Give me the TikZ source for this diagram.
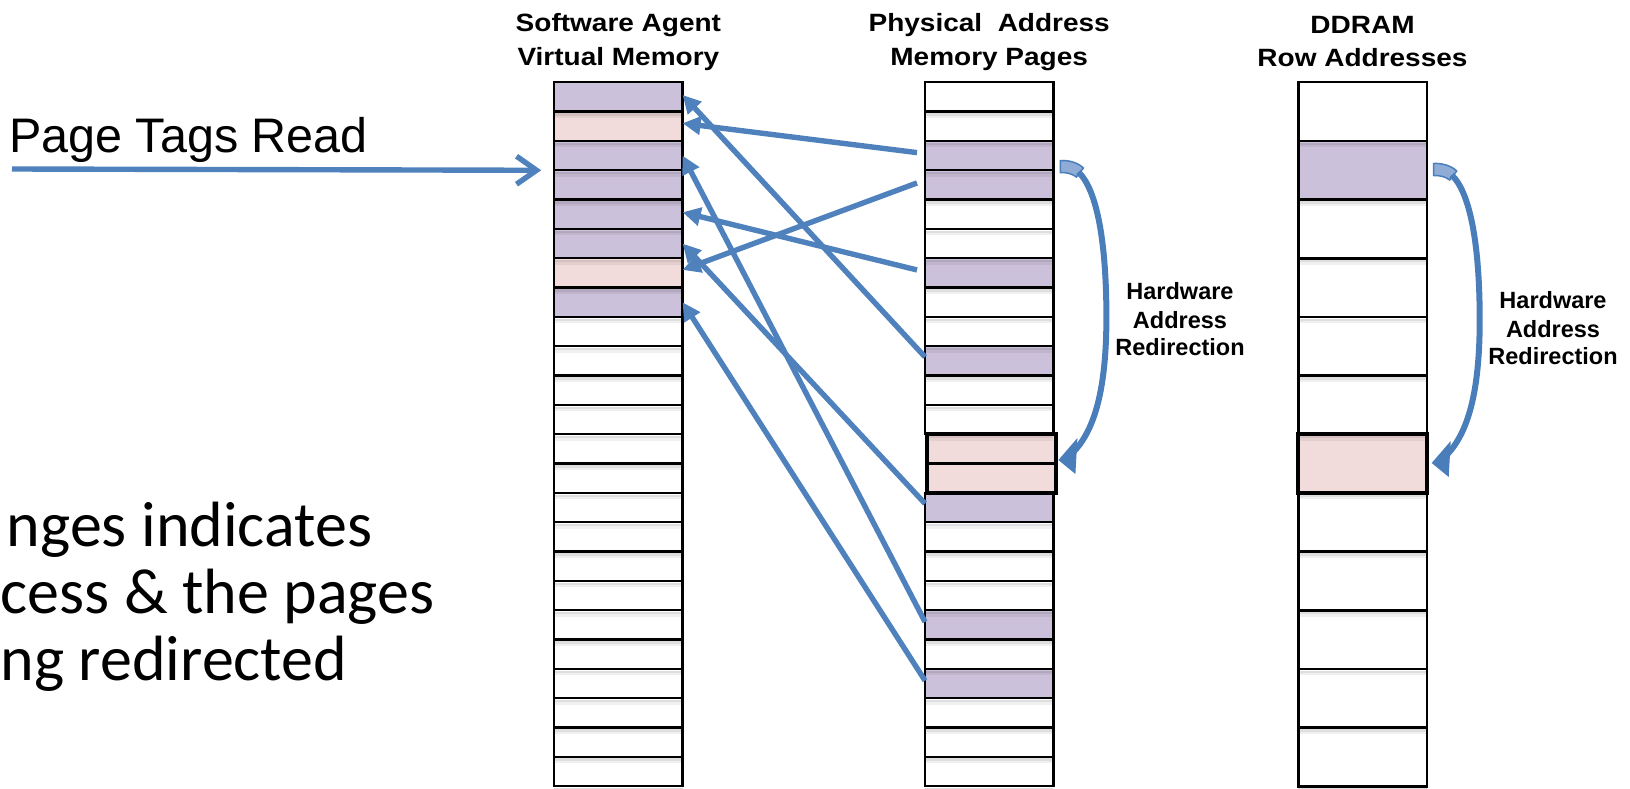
\documentclass[tikz,border=0pt]{standalone}
\usepackage{fontspec}
\setmainfont{Liberation Sans}
\newfontfamily\hdrfont[FakeStretch=1.12]{Liberation Sans}
\newfontfamily\calfont{Carlito}
\usetikzlibrary{arrows.meta}

\definecolor{lineblue}{RGB}{79,129,189}
\definecolor{rblue}{RGB}{74,126,187}
\definecolor{rface}{RGB}{142,172,214}
\definecolor{pur}{RGB}{204,193,218}
\definecolor{pnk}{RGB}{242,220,219}

\begin{document}
\begin{tikzpicture}[x=1pt,y=-1pt,
  cellfill/.style={fill=#1, inner sep=0pt, outer sep=0pt,
    minimum width=128.4pt, minimum height=29.33pt},
  ddfill/.style={cellfill=#1, minimum height=58.67pt},
  rowline/.style={draw=black, line width=2.4pt},
  thickrow/.style={draw=black, line width=3.8pt},
  shadowA/.style={draw=black, opacity=0.13, line width=2.4pt},
  shadowB/.style={draw=black, opacity=0.06, line width=2.4pt},
  conn/.style={draw=lineblue, line width=5.4pt,
    -{Triangle[length=18pt,width=18pt]}},
  ptrarrow/.style={draw=lineblue, line width=5.4pt,
    -{Straight Barb[length=20pt,width=28pt]}},
  hdr/.style={font=\hdrfont\bfseries\fontsize{25}{30}\selectfont,
    inner sep=0pt, anchor=base},
  redirlbl/.style={font=\bfseries\fontsize{23.5}{28}\selectfont,
    inner sep=0pt, anchor=base},
  note/.style={font=\calfont\fontsize{64}{66}\selectfont, inner sep=0pt},
  redir/.pic={
    % ribbon face at the start of the curved arrow
    \fill[rface, draw=rblue, line width=1.5pt]
      (0,-1.5) .. controls (9,-2) and (18,1) .. (23,6)
      -- (16,15) .. controls (11,11) and (5,10.5) .. (0,10.5) -- cycle;
    % curved shaft
    \draw[rblue, line width=6pt]
      (18,10) .. controls (37,28) and (46,82) .. (46,155)
      .. controls (46,228) and (34,268) .. (13,290);
    % head
    \fill[rblue] (-2,298) -- (17,276) -- (15,312) -- cycle;
  }
]
\useasboundingbox (0,0) rectangle (1630,789);
\clip (0,0) rectangle (1630,789);

% ---------- cell fills ----------
% software agent virtual memory
\foreach \i/\c in {0/pur,1/pnk,2/pur,3/pur,4/pur,5/pur,6/pnk,7/pur}
  \node[cellfill=\c] (v\i) at (618.4,{82.3+29.33*(\i+0.5)}) {};
\foreach \i in {8,...,23}
  \node[cellfill=white] (v\i) at (618.4,{82.3+29.33*(\i+0.5)}) {};

% physical address memory pages
\foreach \i/\c in {0/white,1/white,2/pur,3/pur,4/white,5/white,6/pur,7/white,
    8/white,9/pur,10/white,11/white,14/pur,15/white,16/white,17/white,
    18/pur,19/white,20/pur,21/white,22/white,23/white}
  \node[cellfill=\c] (p\i) at (989.2,{82.3+29.33*(\i+0.5)}) {};
\foreach \i in {12,13}
  \node[cellfill=pnk, minimum width=128.5pt] (p\i) at (991.6,{82.3+29.33*(\i+0.5)}) {};

% DDRAM row addresses
\foreach \i/\c in {0/white,1/pur,2/white,3/white,4/white,5/white,6/pnk,
    7/white,8/white,9/white,10/white,11/white}
  \node[ddfill=\c] (d\i) at (1362.5,{82.3+58.67*(\i+0.5)}) {};

% ---------- soft shadows under the row lines ----------
\foreach \i in {0,...,23} {
  \draw[shadowA] ([yshift=-2.8pt]v\i.south west) -- ([yshift=-2.8pt]v\i.south east);
  \draw[shadowB] ([yshift=-5.2pt]v\i.south west) -- ([yshift=-5.2pt]v\i.south east);
}
\foreach \i in {0,...,11,14,15,...,23} {
  \draw[shadowA] ([yshift=-2.8pt]p\i.south west) -- ([yshift=-2.8pt]p\i.south east);
  \draw[shadowB] ([yshift=-5.2pt]p\i.south west) -- ([yshift=-5.2pt]p\i.south east);
}
\foreach \i in {0,...,11} {
  \draw[shadowA] ([yshift=-2.8pt]d\i.south west) -- ([yshift=-2.8pt]d\i.south east);
  \draw[shadowB] ([yshift=-5.2pt]d\i.south west) -- ([yshift=-5.2pt]d\i.south east);
}

% ---------- row outlines ----------
\foreach \i in {0,...,23}
  \draw[rowline] (v\i.north west) rectangle (v\i.south east);
\foreach \i in {0,...,11,14,15,...,23}
  \draw[rowline] (p\i.north west) rectangle (p\i.south east);
\foreach \i in {12,13}
  \draw[thickrow] (p\i.north west) rectangle (p\i.south east);
\foreach \i in {0,...,11}
  \draw[rowline] (d\i.north west) rectangle (d\i.south east);
\draw[thickrow] (d6.north west) rectangle (d6.south east);
\draw[draw=black, line width=3.4pt] (d2.south west) -- (d2.south east);
\draw[draw=black, line width=3.4pt] (d10.south west) -- (d10.south east);

% ---------- column headings ----------
\node[hdr] (hv1) at (618.4,31.7) {Software Agent};
\node[hdr] (hv2) at (618.4,65.5) {Virtual Memory};
\node[hdr] (hp1) at (989.2,31.7) {Physical\ \ Address};
\node[hdr] (hp2) at (989.2,65.3) {Memory Pages};
\node[hdr] (hd1) at (1362.5,33.5) {DDRAM};
\node[hdr] (hd2) at (1362.5,66.7) {Row Addresses};

% ---------- page mappings ----------
\draw[conn] ([xshift=-8pt,yshift=3pt]p2.west) -- ([yshift=3pt]v1.east);
\draw[conn] ([xshift=-8pt,yshift=2pt]p3.west) -- ([yshift=3pt]v6.east);
\draw[conn] ([xshift=-8pt,yshift=3pt]p6.west) -- ([yshift=2pt]v4.east);
\draw[conn] ([yshift=4pt]p9.west) -- ([yshift=2pt]v0.east);
\draw[conn] ([yshift=3pt]p18.west) -- (v2.east);
\draw[conn] ([yshift=4pt]p14.west) -- (v5.east);
\draw[conn] ([yshift=3pt]p20.west) -- (v7.east);

% ---------- hardware address redirection ----------
\pic at ([xshift=7pt,yshift=-6.4pt]p2.east) {redir};
\pic at ([xshift=7pt,yshift=5.3pt]d1.east) {redir};

\node[redirlbl] (rm1) at (1180,299.3) {Hardware};
\node[redirlbl] (rm2) at (1180,328.3) {Address};
\node[redirlbl] (rm3) at (1180,355.5) {Redirection};
\node[redirlbl] (rr1) at (1553,308.5) {Hardware};
\node[redirlbl] (rr2) at (1553,337.5) {Address};
\node[redirlbl] (rr3) at (1553,364.5) {Redirection};

% ---------- page tags read ----------
\node[font=\fontsize{48.5}{58}\selectfont, inner sep=0pt, anchor=base west]
  (ptr) at (9,153) {Page Tags Read};
\coordinate (ptrstart) at (12,169);
\draw[ptrarrow] (ptrstart) -- ([xshift=-13pt]v2.south west);

% ---------- note at lower left ----------
\node[note, anchor=base east] (n1) at (372.5,546.7) {nges indicates};
\node[note, anchor=base west] (n2) at (0.5,613) {cess \& the pages};
\node[note, anchor=base west] (n3) at (0.5,680) {ng redirected};
\end{tikzpicture}
\end{document}
